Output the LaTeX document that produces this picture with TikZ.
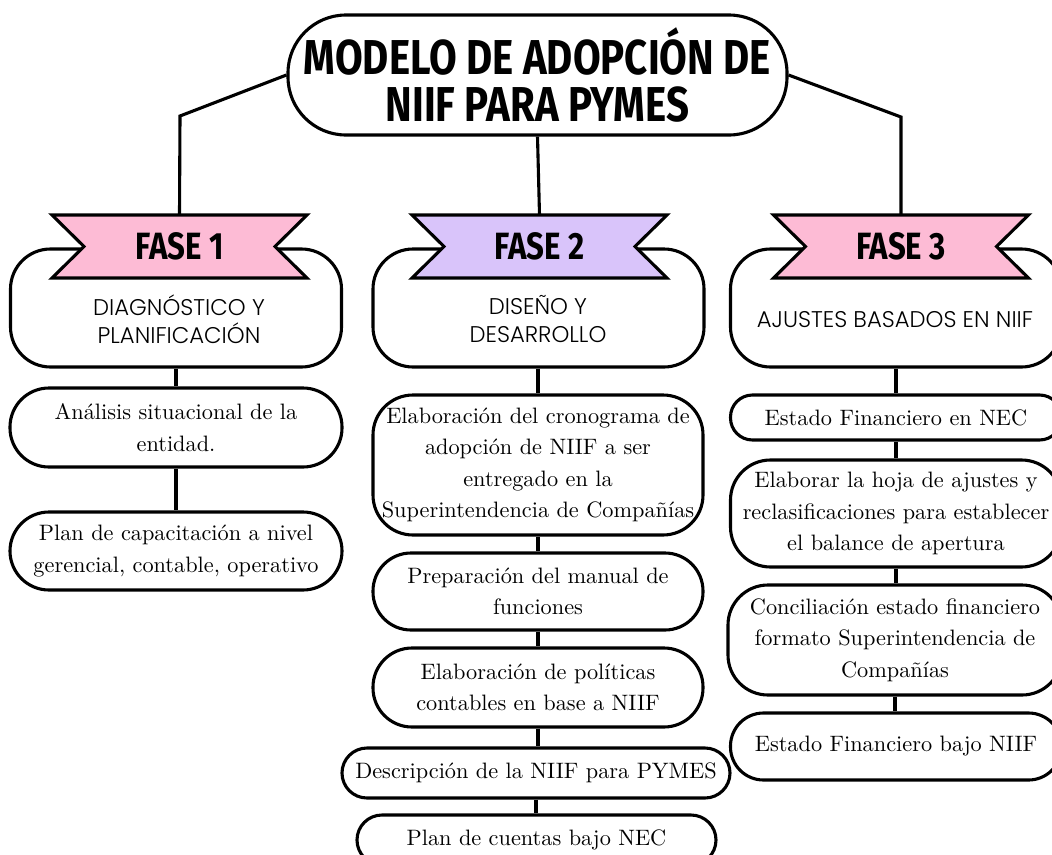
\documentclass[tikz,border=0pt]{standalone}
\usepackage{fontspec}
\newfontfamily\cmten{lmroman10-regular.otf}
\newfontfamily\titlefont{Fira Sans}[FakeStretch=0.82]
\newfontfamily\subfont{Poppins Light}
\definecolor{pinkb}{HTML}{FDBBD5}
\definecolor{lilac}{HTML}{D9C4FA}
\tikzset{
  box/.style={draw, line width=3.1pt, fill=white, align=center, inner sep=0pt,
    font=\cmten\fontsize{22.3}{31.3}\selectfont},
  phase/.style={draw, line width=3.1pt, fill=white, inner sep=0pt, rounded corners=40pt,
    minimum width=331pt, minimum height=118pt},
  ptext/.style={align=center, inner sep=0pt, font=\subfont\fontsize{22.7}{28}\selectfont},
  ftext/.style={font=\titlefont\bfseries\fontsize{38}{38}\selectfont,
    minimum width=255pt, minimum height=63pt, inner sep=0pt},
  banner/.style={draw, line width=3.1pt, line join=miter},
  conn/.style={line width=3.1pt},
}
\newcommand\drawbanner[3]{%
  \draw[banner, fill=#3] (#1-127.5,#2-31.5) -- (#1+127.5,#2-31.5) -- (#1+95.5,#2)
    -- (#1+127.5,#2+31.5) -- (#1-127.5,#2+31.5) -- (#1-95.5,#2) -- cycle;}
\begin{document}
\begin{tikzpicture}[x=1pt,y=-1pt]
\useasboundingbox (0,0) rectangle (1052,854);
\clip (0,0) rectangle (1052,854);

% title
\node[draw, line width=3.1pt, fill=white, rounded corners=58pt, minimum width=499pt,
  minimum height=120pt, inner sep=0pt, align=center,
  font=\titlefont\bfseries\fontsize{49}{47}\selectfont] (title) at (537.5,75)
  {MODELO DE ADOPCIÓN DE\\NIIF PARA PYMES};

\coordinate (k1) at (180,116);
\coordinate (k3) at (901,117);

% phase boxes
\node[phase] (p1) at (176,308) {};
\node[phase] (p2) at (538.5,308) {};
\node[phase] (p3) at (896,308) {};

% banners
\drawbanner{179.5}{246.5}{pinkb}
\drawbanner{539.5}{246.5}{lilac}
\drawbanner{901}{246.5}{pinkb}
\node[ftext] (f1) at (179.5,246.5) {FASE 1};
\node[ftext] (f2) at (539.5,246.5) {FASE 2};
\node[ftext] (f3) at (901,246.5) {FASE 3};

\draw[conn] (title.west) -- (k1) -- (f1.north);
\draw[conn] (title.south) -- (f2.north);
\draw[conn] (title.east) -- (k3) -- (f3.north);

\node[ptext] (p1t) at (179,319) {DIAGNÓSTICO Y\\PLANIFICACIÓN};
\node[ptext] (p2t) at (538,319) {DISEÑO Y\\DESARROLLO};
\node[ptext] (p3t) at (895,320) {AJUSTES BASADOS EN NIIF};

% column 1
\node[box, rounded corners=39pt, minimum width=332pt, minimum height=79pt] (a1) at (176,427.5)
  {Análisis situacional de la\\entidad.};
\node[box, rounded corners=39pt, minimum width=332pt, minimum height=78pt] (a2) at (176,551)
  {Plan de capacitación a nivel\\gerencial, contable, operativo};

% column 2
\node[box, rounded corners=40pt, minimum width=330pt, minimum height=140pt] (b1) at (538,465)
  {Elaboración del cronograma de\\adopción de NIIF a ser\\entregado en la\\Superintendencia de Compañías};
\node[box, rounded corners=38pt, minimum width=330pt, minimum height=77pt] (b2) at (538,591.5)
  {Preparación del manual de\\funciones};
\node[box, rounded corners=39pt, minimum width=330pt, minimum height=79pt] (b3) at (538,687.5)
  {Elaboración de políticas\\contables en base a NIIF};
\node[box, rounded corners=25pt, minimum width=388pt, minimum height=50pt] (b4) at (536,773)
  {Descripción de la NIIF para PYMES};
\node[box, rounded corners=25pt, minimum width=359pt, minimum height=50pt] (b5) at (536.5,840)
  {Plan de cuentas bajo NEC};

% column 3
\node[box, rounded corners=22pt, minimum width=331pt, minimum height=45pt] (c1) at (896,417.5)
  {Estado Financiero en NEC};
\node[box, rounded corners=40pt, minimum width=331pt, minimum height=107pt] (c2) at (896,513.5)
  {Elaborar la hoja de ajustes y\\reclasificaciones para establecer\\el balance de apertura};
\node[box, rounded corners=40pt, minimum width=334pt, minimum height=110pt] (c3) at (895,640)
  {Conciliación estado financiero\\formato Superintendencia de\\Compañías};
\node[box, rounded corners=33pt, minimum width=331pt, minimum height=67pt] (c4) at (896,746.5)
  {Estado Financiero bajo NIIF};

% connectors
\draw[conn] (p1.south) -- (a1.north);
\draw[conn] (a1.south) -- (a2.north);
\draw[conn] (p2.south -| b1.north) -- (b1.north);
\draw[conn] (b1.south) -- (b2.north);
\draw[conn] (b2.south) -- (b3.north);
\draw[conn] (b3.south) -- (b3.south |- b4.north);
\draw[conn] (b4.south) -- (b4.south |- b5.north);
\draw[conn] (p3.south) -- (c1.north);
\draw[conn] (c1.south) -- (c2.north);
\draw[conn] (c2.south) -- (c2.south |- c3.north);
\draw[conn] (c3.south) -- (c3.south |- c4.north);
\end{tikzpicture}
\end{document}
